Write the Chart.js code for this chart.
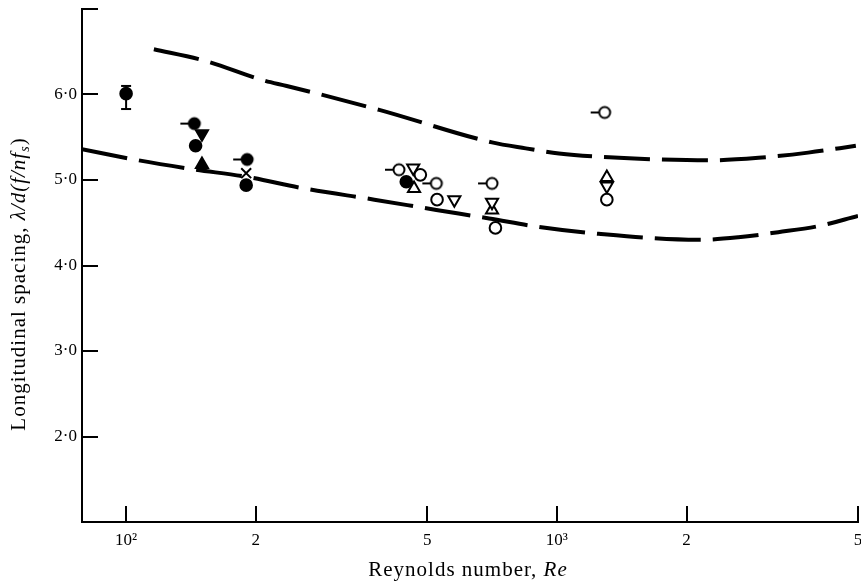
<!DOCTYPE html>
<html>
<head>
<meta charset="utf-8">
<script src="https://cdn.jsdelivr.net/npm/chart.js@4.4.1/dist/chart.umd.min.js"></script>
<style>
  html, body { margin: 0; padding: 0; background: #fff; overflow: hidden; }
  #wrap { width: 867px; height: 587px; position: relative; }
</style>
</head>
<body>
<div id="wrap"><canvas id="chart"></canvas></div>
<script>
// Reynolds number (x) and longitudinal spacing (y)
const xTicks = [100, 200, 500, 1000, 2000, 5000]
const xTickLabels = ["10²", "2", "5", "10³", "2", "5"]
const yTicks = [2, 3, 4, 5, 6]
const yTickMarks = [2, 3, 4, 5, 6, 7]

// point with error bar
const errRe = [100]
const errMid = [6.01]
const errLow = [5.83]
const errHigh = [6.1]

const filledTickRe = [144, 191]
const filledTickL = [5.66, 5.24]
const filledCircleRe = [145, 190, 447]
const filledCircleL = [5.4, 4.94, 4.98]
const filledDownRe = [150]
const filledDownL = [5.54]
const filledUpRe = [150]
const filledUpL = [5.18]
const crossRe = [190]
const crossL = [5.08]

const openTickRe = [430, 525, 707, 1291]
const openTickL = [5.12, 4.96, 4.96, 5.79]
const openCircleRe = [482, 527, 720, 1306]
const openCircleL = [5.06, 4.77, 4.44, 4.77]
const openDownRe = [464, 578, 707, 1306]
const openDownL = [5.14, 4.77, 4.74, 4.93]
const openUpRe = [466, 707, 1306]
const openUpL = [4.9, 4.65, 5.03]

// dashed bounding curves
const upperRe = [116, 151, 210, 236, 387, 707, 847, 1011, 1393, 1723, 2250, 2938, 3831, 4943]
const upperL = [6.53, 6.4, 6.16, 6.1, 5.82, 5.44, 5.37, 5.31, 5.26, 5.24, 5.23, 5.26, 5.32, 5.4]
const lowerRe = [79, 107, 141, 194, 253, 377, 525, 696, 908, 1250, 2132, 2637, 3265, 4039, 5000]
const lowerL = [5.36, 5.23, 5.13, 5.03, 4.91, 4.77, 4.65, 4.55, 4.45, 4.37, 4.3, 4.33, 4.39, 4.46, 4.58]

const pts = (xs, ys) => xs.map((x, i) => ({ x: x, y: ys[i] }))
const serif = "'Liberation Serif', 'DejaVu Serif', serif"

// circle with a short stub on its left
function stubMarker(filled) {
  const c = document.createElement("canvas")
  c.width = 32
  c.height = 16
  const g = c.getContext("2d")
  g.strokeStyle = "#000"
  g.lineWidth = 2
  g.beginPath()
  g.moveTo(2, 8)
  g.lineTo(10, 8)
  g.stroke()
  g.beginPath()
  g.arc(16, 8, 5.5, 0, Math.PI * 2)
  g.fillStyle = filled ? "#000" : "#fff"
  g.fill()
  g.stroke()
  return c
}

function marker(data, style, filled, rotation) {
  let r = 5.8
  if (style === "triangle") r = 7
  if (style === "crossRot") r = 7
  return {
    data: data,
    pointStyle: style,
    pointRadius: r,
    pointRotation: rotation || 0,
    backgroundColor: filled ? "#000" : "#fff",
    borderColor: "#000",
    pointBorderWidth: 2,
    showLine: false,
  }
}

function dashed(data) {
  return {
    data: data,
    showLine: true,
    borderColor: "#000",
    borderWidth: 4,
    borderDash: [46, 12],
    pointRadius: 0,
    cubicInterpolationMode: "monotone",
    order: 10,
  }
}

// inward tick marks and axis titles
const axisExtras = {
  id: "axisExtras",
  afterDraw(chart) {
    const ctx = chart.ctx
    const xs = chart.scales.x
    const ys = chart.scales.y
    const a = chart.chartArea
    ctx.save()
    ctx.strokeStyle = "#000"
    ctx.lineWidth = 2
    yTickMarks.forEach((v) => {
      const py = Math.round(ys.getPixelForValue(v))
      ctx.beginPath()
      ctx.moveTo(a.left, py)
      ctx.lineTo(a.left + 16, py)
      ctx.stroke()
    })
    xTicks.forEach((v) => {
      const px = Math.round(xs.getPixelForValue(v))
      ctx.beginPath()
      ctx.moveTo(px, a.bottom)
      ctx.lineTo(px, a.bottom - 16)
      ctx.stroke()
    })

    ctx.fillStyle = "#000"
    ctx.textBaseline = "alphabetic"
    ctx.letterSpacing = "1px"
    // x title
    const xRuns = [["Reynolds number, ", "21px " + serif], ["Re", "italic 21px " + serif]]
    drawRuns(ctx, xRuns, 468, 576)
    // y title, rotated
    ctx.translate(25, 284)
    ctx.rotate(-Math.PI / 2)
    const yRuns = [
      ["Longitudinal spacing, ", "21px " + serif],
      ["λ/d(f/nf", "italic 21px " + serif],
      ["s", "italic 14px " + serif, 4],
      [")", "21px " + serif],
    ]
    drawRuns(ctx, yRuns, 0, 0)
    ctx.restore()
  },
}

function drawRuns(ctx, runs, cx, baseY) {
  let total = 0
  runs.forEach((r) => {
    ctx.font = r[1]
    total += ctx.measureText(r[0]).width
  })
  let x = cx - total / 2
  ctx.textAlign = "left"
  runs.forEach((r) => {
    ctx.font = r[1]
    ctx.fillText(r[0], x, baseY + (r[2] || 0))
    x += ctx.measureText(r[0]).width
  })
}

new Chart(document.getElementById("chart"), {
  type: "scatter",
  data: {
    datasets: [
      {
        data: [{ x: errRe[0], y: errLow[0] }, { x: errRe[0], y: errHigh[0] }],
        showLine: true,
        borderColor: "#000",
        borderWidth: 2,
        pointStyle: "line",
        pointRadius: 5,
        pointBorderWidth: 2,
      },
      marker(pts(errRe, errMid), "circle", true),
      marker(pts(filledTickRe, filledTickL), stubMarker(true), true),
      marker(pts(filledCircleRe, filledCircleL), "circle", true),
      marker(pts(filledDownRe, filledDownL), "triangle", true, 180),
      marker(pts(filledUpRe, filledUpL), "triangle", true),
      marker(pts(crossRe, crossL), "crossRot", false),
      marker(pts(openTickRe, openTickL), stubMarker(false), false),
      marker(pts(openCircleRe, openCircleL), "circle", false),
      marker(pts(openDownRe, openDownL), "triangle", false, 180),
      marker(pts(openUpRe, openUpL), "triangle", false),
      dashed(pts(upperRe, upperL)),
      dashed(pts(lowerRe, lowerL)),
    ],
  },
  options: {
    responsive: true,
    maintainAspectRatio: false,
    animation: false,
    layout: { padding: { top: 8, right: 0, left: 0, bottom: 0 } },
    plugins: { legend: { display: false }, tooltip: { enabled: false } },
    scales: {
      x: {
        type: "logarithmic",
        min: 79,
        max: 5000,
        afterBuildTicks: (scale) => {
          scale.ticks = xTicks.map((v) => ({ value: v }))
        },
        afterFit: (scale) => {
          scale.height = 65
          scale.paddingLeft = 0
          scale.paddingRight = 0
        },
        ticks: {
          autoSkip: false,
          maxRotation: 0,
          padding: 8,
          color: "#000",
          font: { family: serif, size: 17 },
          callback: (v) => xTickLabels[xTicks.indexOf(v)] ?? "",
        },
        grid: { display: false, drawTicks: false },
        border: { display: true, color: "#000", width: 2 },
      },
      y: {
        min: 1,
        max: 7,
        afterBuildTicks: (scale) => {
          scale.ticks = yTicks.map((v) => ({ value: v }))
        },
        afterFit: (scale) => {
          scale.width = 82
          scale.paddingTop = 0
          scale.paddingBottom = 0
        },
        ticks: {
          padding: 5,
          color: "#000",
          font: { family: serif, size: 17 },
          callback: (v) => v.toFixed(1).replace(".", "·"),
        },
        grid: { display: false, drawTicks: false },
        border: { display: true, color: "#000", width: 2 },
      },
    },
  },
  plugins: [axisExtras],
})
</script>
</body>
</html>
